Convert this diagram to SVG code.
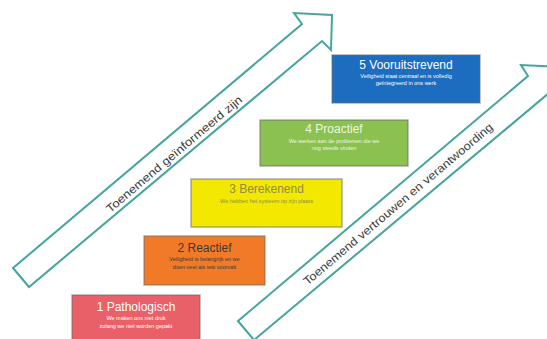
<svg xmlns="http://www.w3.org/2000/svg" width="547" height="339" viewBox="0 0 547 339">
<style>
.arrow{fill:#ffffff;stroke:#45a59c;stroke-width:2;stroke-linejoin:miter}
.atext{font-family:"Liberation Sans",Arial,sans-serif;font-size:11.5px;fill:#3a3a3a;text-anchor:middle;dominant-baseline:central}
.box{stroke:#6b6b6b;stroke-opacity:0.55;stroke-width:1.5}
.title{font-family:"Liberation Sans",Arial,sans-serif;font-size:12px;text-anchor:middle}
.sub{font-family:"Liberation Sans",Arial,sans-serif;font-size:5.5px;text-anchor:middle}
</style>
<rect width="547" height="339" fill="#ffffff"/>
<g id="connectors">
  <g id="arrow-left">
    <polygon class="arrow" points="13,268 302,24 294,13 332,15 331,50 322,41 29,287"/>
    <text class="atext" transform="translate(174,154) rotate(-40.2)" textLength="174" lengthAdjust="spacingAndGlyphs">Toenemend geïnformeerd zijn</text>
  </g>
  <g id="arrow-right">
    <polygon class="arrow" points="238,321 528,76 521,65 559,67 558,102 549,93 254,340"/>
    <text class="atext" transform="translate(398,204) rotate(-40.2)" textLength="244" lengthAdjust="spacingAndGlyphs">Toenemend vertrouwen en verantwoording</text>
  </g>
</g>
<g id="node1">
  <rect class="box" x="72" y="295" width="128" height="50" fill="#ea6068"/>
  <text class="title" x="136" y="311" fill="#ffffff">1 Pathologisch</text>
  <text class="sub" x="136" y="320" fill="#ffffff">We maken ons niet druk</text>
  <text class="sub" x="136" y="328" fill="#ffffff">zolang we niet worden gepakt</text>
</g>
<g id="node2">
  <rect class="box" x="144" y="236" width="121" height="49" fill="#f07a28"/>
  <text class="title" x="204.5" y="252" fill="#3a3a3a">2 Reactief</text>
  <text class="sub" x="204.5" y="261" fill="#3a3a3a">Veiligheid is belangrijk en we</text>
  <text class="sub" x="204.5" y="269" fill="#3a3a3a">doen veel als iets voorvalt</text>
</g>
<g id="node3">
  <rect class="box" x="191" y="179" width="151" height="48" fill="#f3e800"/>
  <text class="title" x="266.5" y="193" fill="#8f8d48">3 Berekenend</text>
  <text class="sub" x="266.5" y="203" fill="#8f8d48">We hebben het systeem op zijn plaats</text>
</g>
<g id="node4">
  <rect class="box" x="260" y="120" width="148" height="46" fill="#8bc150"/>
  <text class="title" x="334" y="133" fill="#eef5e0">4 Proactief</text>
  <text class="sub" x="334" y="143" fill="#eef5e0">We werken aan de problemen die we</text>
  <text class="sub" x="334" y="150" fill="#eef5e0">nog steeds vinden</text>
</g>
<g id="node5">
  <rect class="box" x="332" y="55" width="148" height="48" fill="#1c6cc0"/>
  <text class="title" x="406" y="69" fill="#ffffff">5 Vooruitstrevend</text>
  <text class="sub" x="406" y="78" fill="#ffffff">Veiligheid staat centraal en is volledig</text>
  <text class="sub" x="406" y="85" fill="#ffffff">geïntegreerd in ons werk</text>
</g>
</svg>
